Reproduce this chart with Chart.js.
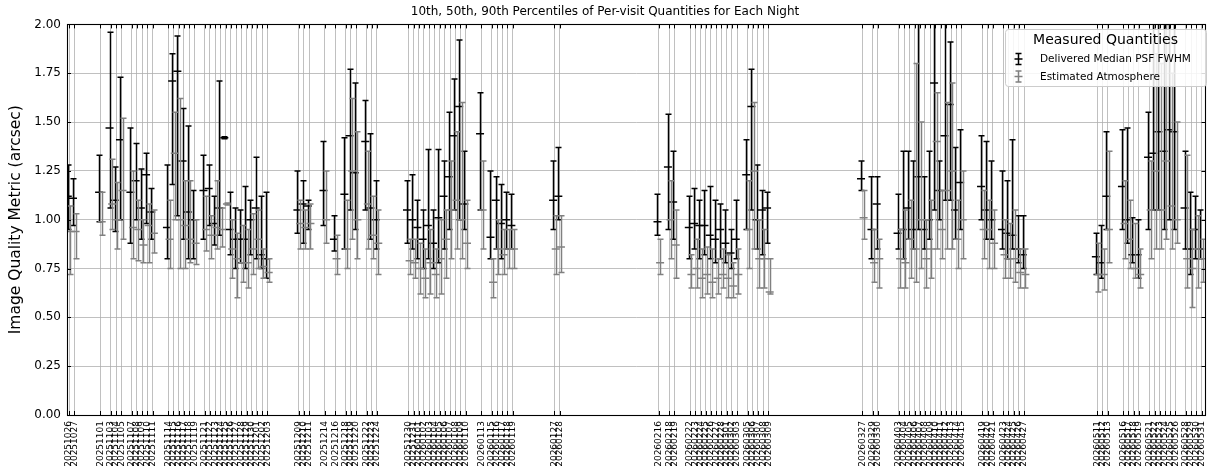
<!DOCTYPE html>
<html>
<head>
<meta charset="utf-8">
<script src="https://cdn.jsdelivr.net/npm/chart.js@4.4.1/dist/chart.umd.min.js"></script>
<style>
  html, body { margin: 0; padding: 0; background: #fff; }
</style>
</head>
<body>
<canvas id="iq-chart" width="1211" height="470"></canvas>
<script>
// nights with data (dayobs)
const nights = [
  '20251026', '20251027',
  '20251101', '20251103', '20251104', '20251105', '20251107', '20251108', '20251109', '20251110', '20251111',
  '20251114', '20251115', '20251116', '20251117', '20251118', '20251119',
  '20251121', '20251122', '20251123', '20251124', '20251125', '20251126', '20251127', '20251128', '20251129', '20251130', '20251201', '20251202', '20251203',
  '20251209', '20251210', '20251211',
  '20251214', '20251216', '20251218', '20251219', '20251220', '20251222', '20251223', '20251224',
  '20251230', '20251231', '20260101', '20260102', '20260103', '20260104', '20260105', '20260106', '20260107', '20260108', '20260109', '20260110',
  '20260113', '20260115', '20260116', '20260117', '20260118', '20260119',
  '20260127', '20260128',
  '20260216', '20260218', '20260219',
  '20260222', '20260223', '20260224', '20260225', '20260226', '20260227', '20260228', '20260301', '20260302', '20260303',
  '20260305', '20260306', '20260307', '20260308', '20260309',
  '20260327', '20260329', '20260330',
  '20260403', '20260404', '20260405', '20260406', '20260407', '20260408', '20260409', '20260410', '20260411', '20260412', '20260413', '20260414', '20260415',
  '20260419', '20260420', '20260421', '20260423', '20260424', '20260425', '20260426', '20260427',
  '20260511', '20260512', '20260513', '20260516', '20260517', '20260518', '20260519',
  '20260521', '20260522', '20260523', '20260524', '20260525', '20260526',
  '20260528', '20260529', '20260530', '20260531'
];

// delivered median PSF FWHM per visit: 10th / 50th / 90th percentile
const fwhmP10 = [
  0.95, 0.97,
  0.99, 1.06, 0.94, 1.00, 0.88, 1.00, 0.90, 0.98, 0.90,
  0.80, 1.18, 1.02, 0.90, 0.80, 0.80,
  0.90, 0.97, 0.87, 0.92, 1.415, 0.82, 0.75, 0.78, 0.75, 0.82, 0.80, 0.75, 0.70,
  0.93, 0.88, 0.95,
  0.97, 0.84, 0.85, 1.05, 0.95, 1.05, 0.90, 0.85,
  0.88, 0.85, 0.80, 0.75, 0.80, 0.75, 0.78, 0.85, 0.95, 1.05, 1.00, 0.95,
  1.05, 0.80, 0.85, 0.80, 0.85, 0.85,
  0.95, 1.00,
  0.92, 0.95, 0.90,
  0.80, 0.85, 0.80, 0.82, 0.80, 0.78, 0.80, 0.78, 0.75, 0.80,
  0.95, 1.05, 0.85, 0.82, 0.88,
  1.15, 0.80, 0.85,
  0.85, 0.80, 0.90, 0.85, 0.95, 0.85, 0.90, 1.05, 1.00, 1.10, 1.10, 0.90, 0.95,
  1.00, 0.90, 0.90, 0.85, 0.80, 0.85, 0.78, 0.75,
  0.72, 0.70, 0.95, 0.95, 0.88, 0.78, 0.70,
  0.95, 1.05, 1.05, 0.95, 1.00, 0.95,
  0.85, 0.72, 0.80, 0.80
];
const fwhmP50 = [
  1.12, 1.11,
  1.14, 1.47, 1.10, 1.41, 1.14, 1.20, 1.06, 1.23, 1.04,
  0.96, 1.71, 1.76, 1.30, 1.04, 1.00,
  1.15, 1.16, 0.98, 1.06, 1.42, 0.95, 0.90, 0.90, 0.90, 1.00, 1.06, 0.82, 0.80,
  1.05, 1.08, 1.07,
  1.15, 0.90, 1.13, 1.43, 1.24, 1.40, 1.06, 1.00,
  1.05, 1.00, 0.96, 0.90, 0.97, 0.88, 1.01, 1.12, 1.22, 1.43, 1.58, 1.08,
  1.44, 0.91, 1.10, 0.98, 1.00, 0.97,
  1.10, 1.12,
  0.99, 1.27, 1.09,
  0.96, 0.98, 0.97, 0.97, 0.92, 0.90, 0.95, 0.88, 0.83, 0.90,
  1.23, 1.58, 1.00, 1.05, 1.06,
  1.21, 0.95, 1.08,
  0.93, 0.95, 1.06, 0.95, 1.22, 0.95, 1.00, 1.70, 1.15, 1.43, 1.59, 1.05, 1.19,
  1.17, 1.05, 1.00, 0.95, 0.93, 0.92, 0.85, 0.82,
  0.81, 0.78, 1.12, 1.17, 1.00, 0.82, 0.82,
  1.32, 1.34, 1.45, 1.35, 1.46, 1.45,
  1.06, 0.85, 0.95, 0.85
];
const fwhmP90 = [
  1.28, 1.21,
  1.33, 1.96, 1.27, 1.73, 1.47, 1.39, 1.26, 1.34, 1.16,
  1.28, 1.85, 1.94, 1.57, 1.48, 1.15,
  1.33, 1.28, 1.12, 1.71, 1.425, 1.14, 1.06, 1.05, 1.17, 1.10, 1.32, 1.12, 1.14,
  1.25, 1.20, 1.10,
  1.40, 1.02, 1.42, 1.77, 1.70, 1.61, 1.44, 1.20,
  1.20, 1.23, 1.10, 1.05, 1.36, 1.05, 1.36, 1.30, 1.55, 1.72, 1.92, 1.35,
  1.65, 1.25, 1.22, 1.18, 1.14, 1.13,
  1.30, 1.37,
  1.13, 1.54, 1.35,
  1.12, 1.16, 1.10, 1.15, 1.17, 1.10, 1.08, 1.05, 0.95, 1.10,
  1.41, 1.77, 1.28, 1.15, 1.14,
  1.30, 1.22, 1.22,
  1.13, 1.35, 1.35, 1.30, 2.10, 1.22, 1.35, 2.10, 1.30, 2.05, 1.91, 1.37, 1.46,
  1.43, 1.40, 1.30, 1.25, 1.20, 1.41, 1.02, 1.02,
  0.93, 0.97, 1.45, 1.46, 1.47, 1.01, 1.00,
  1.55, 2.05, 2.05, 2.05, 2.05, 2.05,
  1.35, 1.14, 1.12, 1.05
];

// estimated atmospheric seeing per visit: 10th / 50th / 90th percentile
const atmP10 = [
  0.72, 0.80,
  0.92, 0.95, 0.85, 0.90, 0.80, 0.79, 0.78, 0.78, 0.83,
  0.75, 1.00, 0.75, 0.75, 0.78, 0.77,
  0.84, 0.80, 0.85, 0.86, 1.075, 0.70, 0.60, 0.68, 0.65, 0.72, 0.75, 0.70, 0.68,
  0.85, 0.85, 0.85,
  0.88, 0.72, 0.75, 0.90, 0.80, 0.85, 0.80, 0.72,
  0.72, 0.70, 0.62, 0.60, 0.62, 0.60, 0.62, 0.70, 0.80, 0.85, 0.80, 0.75,
  0.85, 0.60, 0.72, 0.72, 0.75, 0.75,
  0.72, 0.73,
  0.72, 0.80, 0.70,
  0.65, 0.65, 0.60, 0.62, 0.60, 0.62, 0.65, 0.60, 0.60, 0.62,
  0.75, 0.85, 0.65, 0.65, 0.62,
  0.90, 0.68, 0.65,
  0.65, 0.65, 0.70, 0.68, 0.75, 0.65, 0.70, 0.85, 0.80, 0.85, 0.85, 0.75, 0.80,
  0.80, 0.75, 0.75, 0.70, 0.70, 0.68, 0.65, 0.65,
  0.63, 0.64, 0.78, 0.80, 0.75, 0.70, 0.65,
  0.80, 0.85, 0.85, 0.90, 0.85, 0.88,
  0.65, 0.55, 0.65, 0.68
];
const atmP50 = [
  0.94, 0.94,
  0.99, 1.08, 1.00, 1.15, 0.96, 0.95, 0.87, 0.97, 0.93,
  0.90, 1.34, 1.00, 0.97, 0.90, 0.88,
  0.95, 0.92, 0.96, 0.95, 1.08, 0.85, 0.80, 0.78, 0.78, 0.85, 0.90, 0.76, 0.73,
  0.98, 0.96, 0.98,
  1.00, 0.80, 0.85, 1.25, 1.00, 1.08, 0.92, 0.88,
  0.79, 0.78, 0.75, 0.70, 0.78, 0.72, 0.80, 0.90, 1.05, 1.10, 1.00, 0.88,
  1.05, 0.68, 0.85, 0.82, 0.85, 0.85,
  0.85, 0.86,
  0.78, 1.00, 0.87,
  0.72, 0.75, 0.70, 0.72, 0.68, 0.70, 0.72, 0.70, 0.66, 0.72,
  0.95, 1.25, 0.80, 0.80, 0.63,
  1.01, 0.78, 0.80,
  0.80, 0.78, 0.90, 0.85, 1.00, 0.80, 0.85, 1.40, 0.95, 1.15, 1.25, 0.90, 1.00,
  0.95, 0.95, 0.88, 0.82, 0.80, 0.80, 0.73, 0.72,
  0.72, 0.72, 0.95, 0.98, 0.90, 0.75, 0.72,
  1.05, 1.25, 1.05, 1.30, 1.07, 1.00,
  0.80, 0.75, 0.85, 0.80
];
const atmP90 = [
  1.07, 1.03,
  1.14, 1.31, 1.19, 1.52, 1.25, 1.10, 1.00, 1.08, 1.05,
  1.10, 1.55, 1.62, 1.20, 1.20, 1.00,
  1.12, 1.02, 1.20, 1.06, 1.085, 1.00, 0.93, 0.97, 0.95, 1.03, 1.05, 0.85, 0.80,
  1.10, 1.05, 1.08,
  1.25, 0.92, 1.10, 1.62, 1.45, 1.35, 1.12, 1.05,
  0.90, 0.90, 0.88, 0.85, 0.95, 0.85, 1.00, 1.05, 1.30, 1.45, 1.60, 1.10,
  1.30, 0.80, 1.00, 0.95, 0.95, 0.95,
  1.02, 1.02,
  0.90, 1.20, 1.05,
  0.82, 0.90, 0.85, 0.86, 0.85, 0.80, 0.85, 0.82, 0.78, 0.85,
  1.20, 1.60, 1.00, 0.95, 0.80,
  1.15, 0.95, 0.90,
  0.95, 1.05, 1.10, 1.80, 1.50, 1.00, 1.10, 1.65, 1.15, 1.60, 1.70, 1.10, 1.25,
  1.15, 1.10, 1.05, 1.00, 0.98, 1.05, 0.85, 0.85,
  0.88, 0.85, 1.35, 1.20, 1.10, 0.98, 0.85,
  1.30, 1.85, 1.80, 2.00, 1.75, 1.50,
  1.33, 0.95, 1.02, 0.90
];

const yTicks = [0, 0.25, 0.5, 0.75, 1.0, 1.25, 1.5, 1.75, 2.0];

// x axis runs in days counted from the first night
const DAY0 = Date.UTC(2025, 9, 26);
const toDay = s => (Date.UTC(+s.slice(0, 4), +s.slice(4, 6) - 1, +s.slice(6, 8)) - DAY0) / 86400000;
const nightDays = nights.map(toDay);

const series = [
  { label: 'Delivered Median PSF FWHM', color: '#000000', shift: -0.25, order: 2, lo: fwhmP10, mid: fwhmP50, hi: fwhmP90 },
  { label: 'Estimated Atmosphere', color: '#808080', shift: 0.25, order: 1, lo: atmP10, mid: atmP50, hi: atmP90 }
];

const FONT = 'DejaVu Sans';
const CAP = 3;

// vertical bar + caps for each night, drawn just before the dataset's median markers
const errorBars = {
  id: 'errorBars',
  beforeDatasetDraw(chart, args) {
    const ds = chart.data.datasets[args.index];
    const { x, y } = chart.scales;
    const a = chart.chartArea;
    const ctx = chart.ctx;
    ctx.save();
    ctx.beginPath();
    ctx.rect(a.left, a.top, a.right - a.left, a.bottom - a.top);
    ctx.clip();
    ctx.strokeStyle = ds.borderColor;
    ctx.lineWidth = 1.5;
    ds.data.forEach(p => {
      const px = Math.round(x.getPixelForValue(p.x)) + 0.5;
      const y0 = y.getPixelForValue(p.lo);
      const y1 = y.getPixelForValue(p.hi);
      ctx.beginPath();
      ctx.moveTo(px, y0); ctx.lineTo(px, y1);
      ctx.moveTo(px - CAP, y0); ctx.lineTo(px + CAP, y0);
      ctx.moveTo(px - CAP, y1); ctx.lineTo(px + CAP, y1);
      ctx.stroke();
    });
    ctx.restore();
  }
};

// frame, inward ticks and the legend box
const frame = {
  id: 'frame',
  afterDraw(chart) {
    const { x, y } = chart.scales;
    const a = chart.chartArea;
    const ctx = chart.ctx;
    ctx.save();
    ctx.strokeStyle = '#000';
    ctx.lineWidth = 1;
    ctx.beginPath();
    x.ticks.forEach(t => {
      const px = Math.round(x.getPixelForValue(t.value)) + 0.5;
      ctx.moveTo(px, a.bottom); ctx.lineTo(px, a.bottom - 4);
      ctx.moveTo(px, a.top); ctx.lineTo(px, a.top + 4);
    });
    y.ticks.forEach(t => {
      const py = Math.round(y.getPixelForValue(t.value)) + 0.5;
      ctx.moveTo(a.left, py); ctx.lineTo(a.left + 4, py);
      ctx.moveTo(a.right, py); ctx.lineTo(a.right - 4, py);
    });
    ctx.stroke();
    ctx.lineWidth = 1.1;
    ctx.strokeRect(Math.round(a.left) + 0.5, Math.round(a.top) + 0.5,
      Math.round(a.right - a.left) - 1, Math.round(a.bottom - a.top));

    // legend
    const bx = 1005, by = 29, bw = 201, bh = 57;
    ctx.fillStyle = 'rgba(255,255,255,0.85)';
    ctx.strokeStyle = '#cccccc';
    ctx.lineWidth = 1;
    ctx.beginPath();
    ctx.roundRect(bx + 0.5, by + 0.5, bw, bh, 3);
    ctx.fill();
    ctx.stroke();
    ctx.fillStyle = '#000';
    ctx.textBaseline = 'middle';
    ctx.textAlign = 'center';
    ctx.font = `14px "${FONT}"`;
    ctx.fillText('Measured Quantities', bx + bw / 2, by + 11);
    ctx.textAlign = 'left';
    ctx.font = `10.5px "${FONT}"`;
    series.forEach((s, i) => {
      const cy = by + 30 + i * 17.5;
      const gx = 1018.5;
      ctx.strokeStyle = s.color;
      ctx.lineWidth = 1.5;
      ctx.beginPath();
      ctx.moveTo(gx, cy - 5.5); ctx.lineTo(gx, cy + 5.5);
      ctx.moveTo(gx - CAP, cy - 5.5); ctx.lineTo(gx + CAP, cy - 5.5);
      ctx.moveTo(gx - CAP, cy + 5.5); ctx.lineTo(gx + CAP, cy + 5.5);
      ctx.moveTo(gx - 4, cy); ctx.lineTo(gx + 4, cy);
      ctx.stroke();
      ctx.fillStyle = '#000';
      ctx.fillText(s.label, 1040, cy + 0.5);
    });
    ctx.restore();
  }
};

new Chart(document.getElementById('iq-chart').getContext('2d'), {
  type: 'scatter',
  data: {
    datasets: series.map(s => ({
      label: s.label,
      order: s.order,
      data: nightDays.map((d, i) => ({ x: d + s.shift, y: s.mid[i], lo: s.lo[i], hi: s.hi[i] })),
      pointStyle: 'line',
      pointRadius: 4,
      borderColor: s.color,
      backgroundColor: s.color,
      borderWidth: 1.5
    }))
  },
  options: {
    responsive: false,
    animation: false,
    events: [],
    layout: { padding: { top: 0, right: 1, bottom: 0, left: 0 } },
    plugins: {
      legend: { display: false },
      tooltip: { enabled: false },
      title: {
        display: true,
        text: '10th, 50th, 90th Percentiles of Per-visit Quantities for Each Night',
        color: '#000',
        font: { family: FONT, size: 12, weight: 'normal' },
        padding: { top: 5, bottom: 5 }
      }
    },
    scales: {
      x: {
        type: 'linear',
        min: -0.4,
        max: 217.76,
        afterBuildTicks: s => { s.ticks = nightDays.map(v => ({ value: v })); },
        afterFit: s => { s.height = 55; s.paddingLeft = 0; s.paddingRight = 0; },
        border: { display: false },
        grid: { color: '#b0b0b0', lineWidth: 0.8, drawTicks: false },
        ticks: {
          autoSkip: false,
          minRotation: 90,
          maxRotation: 90,
          padding: 6,
          color: '#000',
          font: { family: FONT, size: 9 },
          callback: (v, i) => nights[i]
        }
      },
      y: {
        min: 0,
        max: 2,
        afterBuildTicks: s => { s.ticks = yTicks.map(v => ({ value: v })); },
        afterFit: s => { s.width = 67; },
        border: { display: false },
        grid: { color: '#b0b0b0', lineWidth: 0.8, drawTicks: false },
        ticks: {
          padding: 6,
          color: '#000',
          font: { family: FONT, size: 12 },
          callback: v => v.toFixed(2)
        },
        title: {
          display: true,
          text: 'Image Quality Metric (arcsec)',
          color: '#000',
          font: { family: FONT, size: 15.5 },
          padding: { top: 7, bottom: 0 }
        }
      }
    }
  },
  plugins: [errorBars, frame]
});
</script>
</body>
</html>
